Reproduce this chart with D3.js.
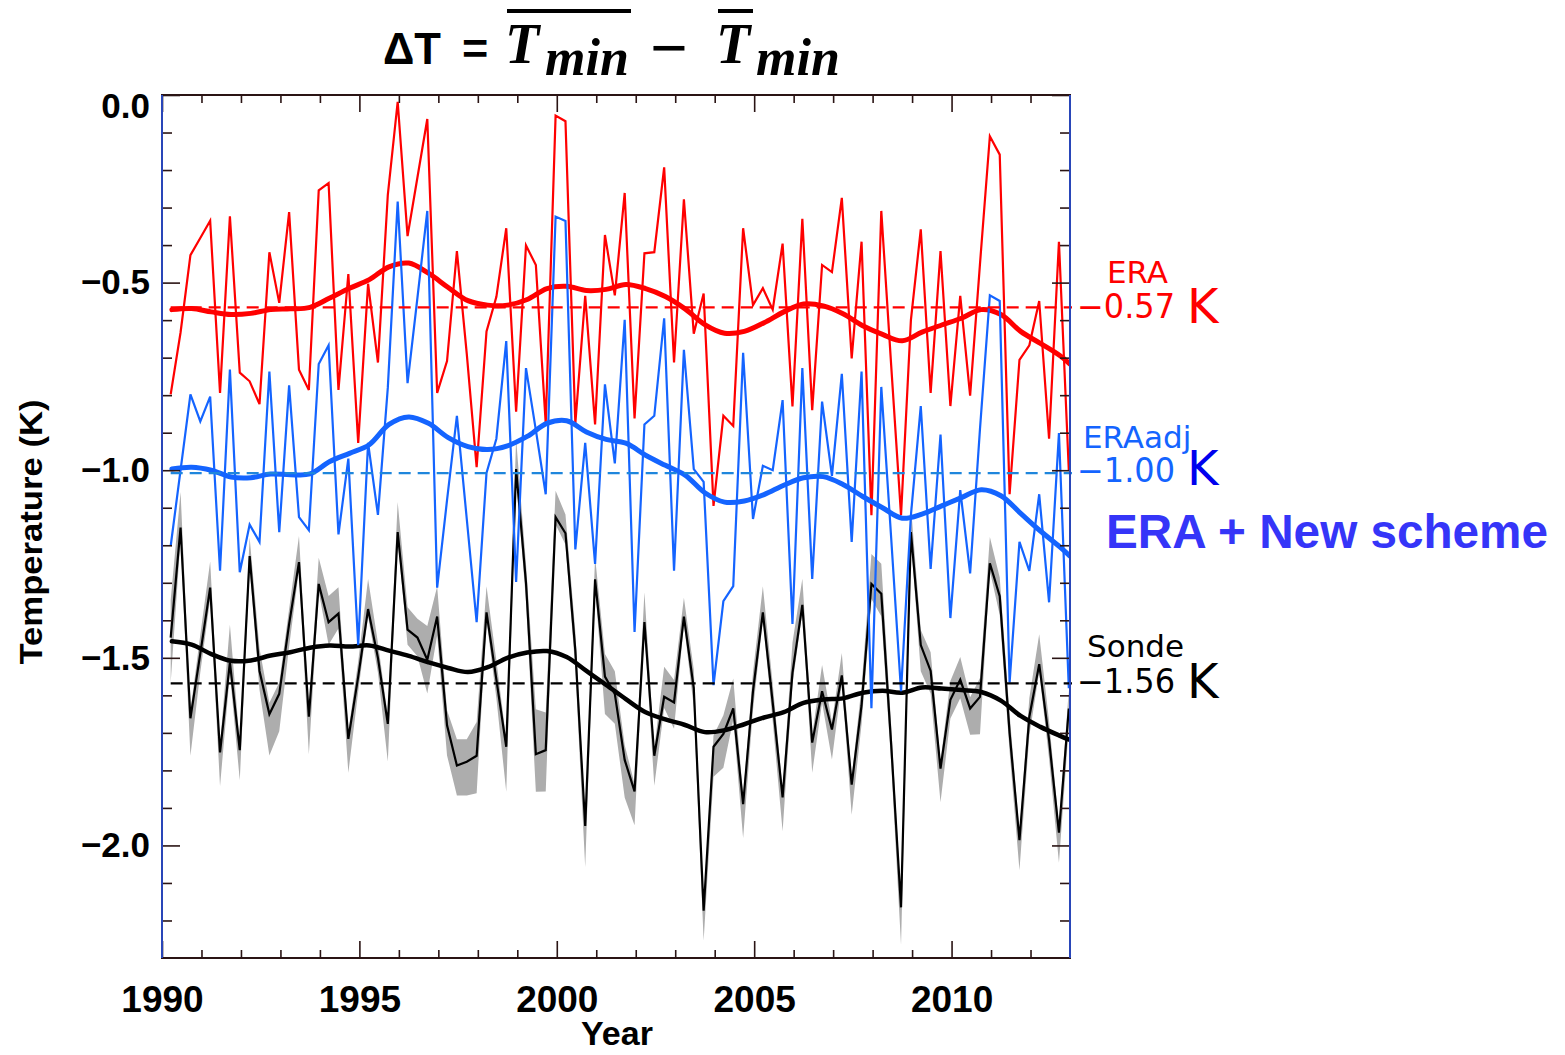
<!DOCTYPE html>
<html><head><meta charset="utf-8">
<script src="https://cdn.jsdelivr.net/npm/d3@7"></script>
<style>body{margin:0;background:#fff} svg{display:block}</style>
</head><body>
<svg id="c" width="1565" height="1055"></svg>
<script>
// ---------- data ----------
const startTime = 1990.22;   // first (quarterly) sample
const stepYears = 0.25;

const era = [-0.798,-0.633,-0.427,-0.381,-0.335,-0.794,-0.323,-0.740,-0.763,-0.824,
-0.419,-0.554,-0.312,-0.732,-0.786,-0.254,-0.235,-0.786,-0.477,-0.927,
-0.503,-0.713,-0.266,-0.018,-0.376,-0.220,-0.064,-0.794,-0.709,-0.416,
-0.690,-0.992,-0.630,-0.538,-0.355,-0.844,-0.401,-0.453,-0.875,-0.055,
-0.070,-0.875,-0.535,-0.878,-0.373,-0.534,-0.261,-0.862,-0.422,-0.419,
-0.193,-0.713,-0.278,-0.636,-0.529,-1.095,-0.855,-0.882,-0.355,-0.560,
-0.515,-0.572,-0.396,-0.830,-0.330,-0.840,-0.453,-0.472,-0.274,-0.702,
-0.391,-1.120,-0.309,-0.720,-1.120,-0.600,-0.358,-0.794,-0.416,-0.829,
-0.535,-0.801,-0.450,-0.110,-0.159,-1.064,-0.706,-0.667,-0.549,-0.916,
-0.391,-1.000];

const eraAdj = [-1.202,-1.000,-0.798,-0.870,-0.804,-1.268,-0.732,-1.272,-1.145,-1.191,
-0.737,-1.165,-0.774,-1.125,-1.160,-0.717,-0.667,-1.171,-0.969,-1.466,
-0.927,-1.119,-0.780,-0.284,-0.768,-0.541,-0.309,-1.313,-1.080,-0.855,
-1.130,-1.405,-1.007,-0.916,-0.656,-1.298,-0.728,-0.893,-1.064,-0.324,
-0.336,-1.211,-0.927,-1.250,-0.771,-0.982,-0.599,-1.431,-0.878,-0.855,
-0.595,-1.268,-0.679,-0.997,-1.031,-1.573,-1.349,-1.309,-0.687,-1.130,
-0.988,-1.000,-0.813,-1.410,-0.728,-1.290,-0.817,-1.015,-0.743,-1.191,
-0.737,-1.634,-0.778,-1.180,-1.589,-1.120,-0.829,-1.263,-0.905,-1.394,
-1.053,-1.275,-0.890,-0.534,-0.549,-1.566,-1.191,-1.268,-1.064,-1.352,
-0.901,-1.581];

const sonde = [-1.446,-1.153,-1.661,-1.489,-1.313,-1.752,-1.512,-1.746,-1.229,-1.535,
-1.650,-1.596,-1.410,-1.245,-1.657,-1.303,-1.405,-1.382,-1.716,-1.550,
-1.370,-1.500,-1.676,-1.165,-1.425,-1.446,-1.505,-1.390,-1.680,-1.787,
-1.777,-1.761,-1.379,-1.558,-1.737,-0.997,-1.300,-1.757,-1.746,-1.125,
-1.168,-1.480,-1.948,-1.291,-1.550,-1.596,-1.772,-1.856,-1.405,-1.761,
-1.604,-1.619,-1.390,-1.581,-2.174,-1.737,-1.703,-1.635,-1.890,-1.589,
-1.379,-1.620,-1.872,-1.540,-1.359,-1.726,-1.589,-1.691,-1.547,-1.838,
-1.627,-1.303,-1.329,-1.730,-2.165,-1.165,-1.466,-1.535,-1.795,-1.612,
-1.558,-1.635,-1.604,-1.248,-1.336,-1.700,-1.986,-1.657,-1.517,-1.719,
-1.966,-1.635];

// grey spread around the sonde series (amount above / below the line)
const sondeBandUp = [0.10,0.095,0.02,0.05,0.07,0.02,0.10,0.02,0.05,0.06,
0.03,0.03,0.04,0.07,0.02,0.07,0.07,0.07,0.02,0.04,
0.08,0.04,0.02,0.08,0.06,0.05,0.09,0.08,0.04,0.07,
0.06,0.09,0.07,0.05,0.02,0.08,0.05,0.12,0.10,0.07,
0.05,0.05,0.02,0.06,0.06,0.06,0.04,0.02,0.08,0.02,
0.08,0.06,0.05,0.05,0.02,0.03,0.05,0.08,0.02,0.05,
0.07,0.05,0.02,0.08,0.07,0.02,0.07,0.02,0.06,0.02,
0.05,0.08,0.08,0.05,0.02,0.07,0.04,0.05,0.02,0.05,
0.06,0.03,0.05,0.07,0.05,0.05,0.02,0.05,0.08,0.05,
0.02,0.05];
const sondeBandDown = [0.12,0.03,0.10,0.05,0.03,0.09,0.03,0.08,0.03,0.05,
0.11,0.10,0.06,0.02,0.10,0.02,0.06,0.04,0.09,0.04,
0.02,0.04,0.10,0.02,0.04,0.05,0.09,0.05,0.08,0.08,
0.09,0.10,0.02,0.05,0.12,0.02,0.05,0.10,0.11,0.02,
0.03,0.05,0.11,0.02,0.10,0.08,0.10,0.09,0.02,0.08,
0.03,0.07,0.02,0.05,0.08,0.08,0.09,0.03,0.09,0.05,
0.02,0.05,0.09,0.03,0.02,0.08,0.03,0.08,0.02,0.08,
0.05,0.04,0.06,0.05,0.10,0.02,0.07,0.06,0.09,0.05,
0.05,0.07,0.10,0.02,0.05,0.05,0.08,0.05,0.02,0.05,
0.08,0.05];

const smoothTimes = [1990.25,1990.75,1991.25,1991.75,1992.25,1992.75,1993.25,1993.75,1994.25,1994.75,
1995.25,1995.75,1996.25,1996.75,1997.25,1997.75,1998.25,1998.75,1999.25,1999.75,
2000.25,2000.75,2001.25,2001.75,2002.25,2002.75,2003.25,2003.75,2004.25,2004.75,
2005.25,2005.75,2006.25,2006.75,2007.25,2007.75,2008.25,2008.75,2009.25,2009.75,
2010.25,2010.75,2011.25,2011.75,2012.25,2012.75,2013.0];

const eraSmooth = [-0.572,-0.569,-0.578,-0.585,-0.582,-0.572,-0.570,-0.566,-0.541,-0.515,
-0.492,-0.458,-0.448,-0.475,-0.513,-0.548,-0.560,-0.560,-0.545,-0.516,
-0.510,-0.521,-0.518,-0.505,-0.516,-0.537,-0.570,-0.612,-0.635,-0.630,
-0.607,-0.578,-0.557,-0.562,-0.583,-0.615,-0.638,-0.655,-0.632,-0.613,
-0.595,-0.572,-0.585,-0.630,-0.662,-0.695,-0.717];

const eraAdjSmooth = [-0.997,-0.992,-1.000,-1.018,-1.020,-1.010,-1.012,-1.010,-0.977,-0.955,
-0.932,-0.878,-0.858,-0.875,-0.913,-0.937,-0.945,-0.935,-0.910,-0.875,
-0.868,-0.898,-0.918,-0.928,-0.960,-0.987,-1.013,-1.060,-1.085,-1.082,
-1.065,-1.040,-1.020,-1.017,-1.038,-1.070,-1.100,-1.128,-1.117,-1.095,
-1.073,-1.052,-1.068,-1.115,-1.162,-1.205,-1.229];

const sondeSmooth = [-1.456,-1.465,-1.490,-1.508,-1.507,-1.494,-1.485,-1.473,-1.467,-1.470,
-1.467,-1.481,-1.495,-1.512,-1.527,-1.538,-1.525,-1.500,-1.486,-1.482,
-1.498,-1.535,-1.572,-1.610,-1.645,-1.664,-1.679,-1.698,-1.693,-1.677,
-1.659,-1.645,-1.620,-1.611,-1.608,-1.593,-1.588,-1.593,-1.579,-1.582,
-1.586,-1.591,-1.614,-1.655,-1.684,-1.708,-1.719];

const seriesNames = ["ERA", "ERAadj", "Sonde"];
const meanValues = [-0.566, -1.008, -1.568];
const meanLabels = ["\u22120.57", "\u22121.00", "\u22121.56"];
const xTicks = [1990, 1995, 2000, 2005, 2010];
const yTicks = [0, -0.5, -1.0, -1.5, -2.0];

// ---------- chart ----------
const svg = d3.select("#c");
const m = {l:162, r:1070, t:95, b:958};
const x = d3.scaleLinear().domain([1990, 2013]).range([m.l, m.r]);
const y = d3.scaleLinear().domain([-2.3, 0]).range([m.b, m.t]);
const times = era.map((_, i) => startTime + i * stepYears);

svg.append("defs").append("clipPath").attr("id", "clip")
  .append("rect").attr("x", m.l).attr("y", m.t).attr("width", m.r - m.l).attr("height", m.b - m.t);
const plot = svg.append("g").attr("clip-path", "url(#clip)");

// grey band
const band = d3.area()
  .x((d, i) => x(times[i]))
  .y0((d, i) => y(d - sondeBandDown[i]))
  .y1((d, i) => y(d + sondeBandUp[i]));
plot.append("path").datum(sonde).attr("d", band).attr("fill", "#adadad");

const thin = d3.line().x((d, i) => x(times[i])).y(d => y(d));
const smooth = d3.line().x((d, i) => x(smoothTimes[i])).y(d => y(d)).curve(d3.curveCatmullRom);

const series = [
  {vals: sonde,  sm: sondeSmooth,  color: "#000000", dash: "#000000", mean: meanValues[2], smw: 4.5},
  {vals: era,    sm: eraSmooth,    color: "#ff0000", dash: "#ff0000", mean: meanValues[0], smw: 5},
  {vals: eraAdj, sm: eraAdjSmooth, color: "#1464ff", dash: "#1f86dc", mean: meanValues[1], smw: 5}
];

series.forEach(s => {
  plot.append("path").datum(s.vals).attr("d", thin)
    .attr("fill", "none").attr("stroke", s.color).attr("stroke-width", 2.2)
    .attr("stroke-linejoin", "miter");
  plot.append("path").datum(s.sm).attr("d", smooth)
    .attr("fill", "none").attr("stroke", s.color).attr("stroke-width", s.smw)
    .attr("stroke-linecap", "round");
  svg.append("line")
    .attr("x1", x(times[0])).attr("x2", x(2013) + 2)
    .attr("y1", y(s.mean)).attr("y2", y(s.mean))
    .attr("stroke", s.dash).attr("stroke-width", 2.2)
    .attr("stroke-dasharray", "12,7");
});

// ---------- axes ----------
const tickColor = "#2a1414";
function styleAxis(g) {
  g.selectAll("line").attr("stroke", tickColor).attr("stroke-width", 1.6);
  g.select(".domain").remove();
  g.attr("font-size", null).attr("font-family", null);
}
const minorYears = d3.range(1991, 2013).filter(v => v % 5 !== 0);
const minorY = d3.range(1, 23).filter(k => k % 5 !== 0).map(k => -k / 10);

// bottom
svg.append("g").attr("transform", `translate(0,${m.b})`)
  .call(d3.axisBottom(x).tickValues(xTicks).tickSizeInner(-17).tickSizeOuter(0).tickPadding(28).tickFormat(d3.format("d")))
  .call(styleAxis)
  .call(g => g.selectAll("text").attr("font-family", "Liberation Sans, Arial, sans-serif")
    .attr("font-weight", "bold").attr("font-size", 37).attr("fill", "#000"));
svg.append("g").attr("transform", `translate(0,${m.b})`)
  .call(d3.axisBottom(x).tickValues(minorYears).tickSizeInner(-8).tickSizeOuter(0).tickFormat(""))
  .call(styleAxis);
// top
svg.append("g").attr("transform", `translate(0,${m.t})`)
  .call(d3.axisTop(x).tickValues(xTicks).tickSizeInner(-17).tickSizeOuter(0).tickFormat(""))
  .call(styleAxis);
svg.append("g").attr("transform", `translate(0,${m.t})`)
  .call(d3.axisTop(x).tickValues(minorYears).tickSizeInner(-8).tickSizeOuter(0).tickFormat(""))
  .call(styleAxis);
// left
svg.append("g").attr("transform", `translate(${m.l},0)`)
  .call(d3.axisLeft(y).tickValues(yTicks).tickSizeInner(-18).tickSizeOuter(0).tickPadding(12).tickFormat(d3.format(".1f")))
  .call(styleAxis)
  .call(g => g.selectAll("text").attr("font-family", "Liberation Sans, Arial, sans-serif")
    .attr("font-weight", "bold").attr("font-size", 35).attr("fill", "#000")
    .attr("y", d => d === 0 ? 11 : 0));
svg.append("g").attr("transform", `translate(${m.l},0)`)
  .call(d3.axisLeft(y).tickValues(minorY).tickSizeInner(-10).tickSizeOuter(0).tickFormat(""))
  .call(styleAxis);
// right
svg.append("g").attr("transform", `translate(${m.r},0)`)
  .call(d3.axisRight(y).tickValues(yTicks).tickSizeInner(-18).tickSizeOuter(0).tickFormat(""))
  .call(styleAxis);
svg.append("g").attr("transform", `translate(${m.r},0)`)
  .call(d3.axisRight(y).tickValues(minorY).tickSizeInner(-10).tickSizeOuter(0).tickFormat(""))
  .call(styleAxis);

// frame
svg.append("rect").attr("x", m.l).attr("y", m.t).attr("width", m.r - m.l).attr("height", m.b - m.t)
  .attr("fill", "none").attr("stroke", tickColor).attr("stroke-width", 2);
svg.append("line").attr("x1", m.l).attr("x2", m.l).attr("y1", m.t).attr("y2", m.b)
  .attr("stroke", "#2a5cff").attr("stroke-width", 1.4);
svg.append("line").attr("x1", m.r).attr("x2", m.r).attr("y1", m.t).attr("y2", m.b)
  .attr("stroke", "#2a5cff").attr("stroke-width", 1.4);

// axis titles
svg.append("text").attr("x", 617).attr("y", 1045).attr("text-anchor", "middle")
  .attr("font-family", "Liberation Sans, Arial, sans-serif").attr("font-weight", "bold")
  .attr("font-size", 34).text("Year");
svg.append("text").attr("transform", "translate(42,532) rotate(-90)").attr("text-anchor", "middle")
  .attr("font-family", "Liberation Sans, Arial, sans-serif").attr("font-weight", "bold")
  .attr("font-size", 31).attr("textLength", 265).attr("lengthAdjust", "spacingAndGlyphs")
  .text("Temperature (K)");

// ---------- title ----------
const title = svg.append("g").attr("fill", "#000");
title.append("text").attr("x", 383).attr("y", 64)
  .attr("font-family", "Liberation Sans, Arial, sans-serif").attr("font-weight", "bold")
  .attr("font-size", 45).attr("textLength", 58).attr("lengthAdjust", "spacingAndGlyphs").text("\u0394T");
title.append("text").attr("x", 462).attr("y", 64)
  .attr("font-family", "Liberation Sans, Arial, sans-serif").attr("font-weight", "bold")
  .attr("font-size", 45).text("=");
const serif = "Liberation Serif, DejaVu Serif, serif";
function tmin(x0, barEnd) {
  title.append("text").attr("x", x0).attr("y", 63).attr("font-family", serif)
    .attr("font-style", "italic").attr("font-weight", "bold").attr("font-size", 56).text("T");
  title.append("text").attr("x", x0 + 40).attr("y", 75).attr("font-family", serif)
    .attr("font-style", "italic").attr("font-weight", "bold").attr("font-size", 52).text("min");
  title.append("rect").attr("x", x0 + 2).attr("y", 9).attr("width", barEnd - x0 - 2).attr("height", 4);
}
tmin(505, 631);
tmin(716, 753);
title.append("text").attr("x", 650).attr("y", 70).attr("font-family", serif)
  .attr("font-weight", "bold").attr("font-size", 66).attr("textLength", 38).attr("lengthAdjust", "spacingAndGlyphs")
  .text("\u2212");

// ---------- right-hand annotations ----------
const lab = "DejaVu Sans, Verdana, sans-serif";
const ann = [
  {name: seriesNames[0], nx: 1107, ny: 283, ncol: "#ff0000", vy: 318, vcol: "#ff0000", kcol: "#ff0000", ky: 323},
  {name: seriesNames[1], nx: 1083, ny: 448, ncol: "#1464ff", vy: 482, vcol: "#1464ff", kcol: "#0000ee", ky: 485},
  {name: seriesNames[2], nx: 1087, ny: 657, ncol: "#000000", vy: 693, vcol: "#000000", kcol: "#000000", ky: 698}
];
ann.forEach((a, i) => {
  svg.append("text").attr("x", a.nx).attr("y", a.ny).attr("font-family", lab)
    .attr("font-size", 31).attr("fill", a.ncol).text(a.name);
  svg.append("text").attr("x", 1077).attr("y", a.vy).attr("font-family", lab)
    .attr("font-size", 33).attr("fill", a.vcol).attr("textLength", 98).attr("lengthAdjust", "spacingAndGlyphs")
    .text(meanLabels[i]);
  svg.append("text").attr("x", 1187).attr("y", a.ky).attr("font-family", lab)
    .attr("font-size", 48).attr("fill", a.kcol).text("K");
});
svg.append("text").attr("x", 1106).attr("y", 548)
  .attr("font-family", "Liberation Sans, Arial, sans-serif").attr("font-weight", "bold")
  .attr("font-size", 48).attr("fill", "#3535f8").attr("textLength", 442).attr("lengthAdjust", "spacingAndGlyphs")
  .text("ERA + New scheme");
</script>
</body></html>
